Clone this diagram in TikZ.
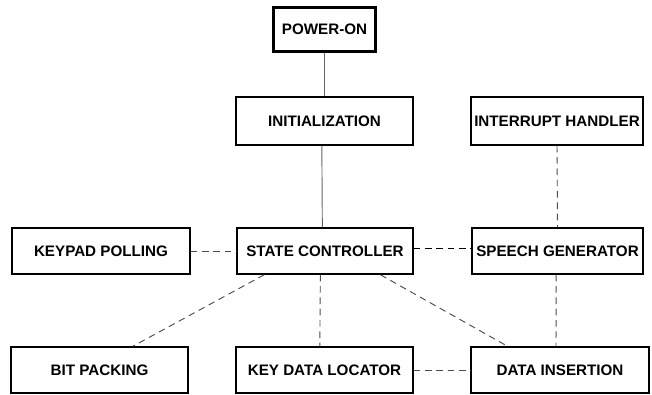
\documentclass[tikz,border=0pt]{standalone}
\usepackage{fontspec}
\setmainfont{Liberation Sans}
\begin{document}
\begin{tikzpicture}[x=0.75pt,y=-0.75pt,
  box/.style={draw,line width=1.1pt,minimum height=34.5pt,inner sep=0pt,font=\bfseries\fontsize{11.4}{13}\selectfont},
  solidline/.style={draw=black!60,line width=0.7pt},
  dline/.style={draw=black!70,line width=0.7pt,dash pattern=on 5pt off 3.5pt}]
\useasboundingbox (0,0) rectangle (652,394);
\node[box,line width=2.2pt,minimum width=76pt,minimum height=33pt] (po) at (324.5,29.5) {POWER-ON};
\node[box,minimum width=132.5pt,minimum height=36pt] (in) at (324.5,121) {INITIALIZATION};
\node[box,minimum width=129pt,minimum height=36pt] (ih) at (557,121) {INTERRUPT HANDLER};
\node[box,minimum width=133.5pt] (kp) at (101,251) {KEYPAD POLLING};
\node[box,minimum width=132pt] (sc) at (325,251) {STATE CONTROLLER};
\node[box,minimum width=128pt] (sg) at (557.5,251) {SPEECH GENERATOR};
\node[box,minimum width=132.5pt] (bp) at (99.5,370) {BIT PACKING};
\node[box,minimum width=132.5pt] (kd) at (324.5,370) {KEY DATA LOCATOR};
\node[box,minimum width=133.5pt] (di) at (560,370) {DATA INSERTION};
\draw[solidline] (po.south) -- (in.north);
\draw[solidline] ([xshift=-2pt]in.south) -- ([xshift=-2pt]sc.north);
\draw[dline] (ih.south) -- (sg.north);
\draw[dline] (kp.east) -- (sc.west);
\draw[dline,draw=black] ([yshift=2pt]sc.east) -- ([yshift=2pt]sg.west);
\draw[dline] ([xshift=-1pt]sg.south) -- ([xshift=-3pt]di.north);
\draw[dline] ([xshift=21pt]sc.south west) -- ([xshift=25pt]bp.north);
\draw[dline] ([xshift=-3.5pt]sc.south) -- ([xshift=-3.5pt]kd.north);
\draw[dline] ([xshift=-25pt]sc.south east) -- ([xshift=28pt]di.north west);
\draw[dline] (kd.east) -- (di.west);
\end{tikzpicture}
\end{document}
